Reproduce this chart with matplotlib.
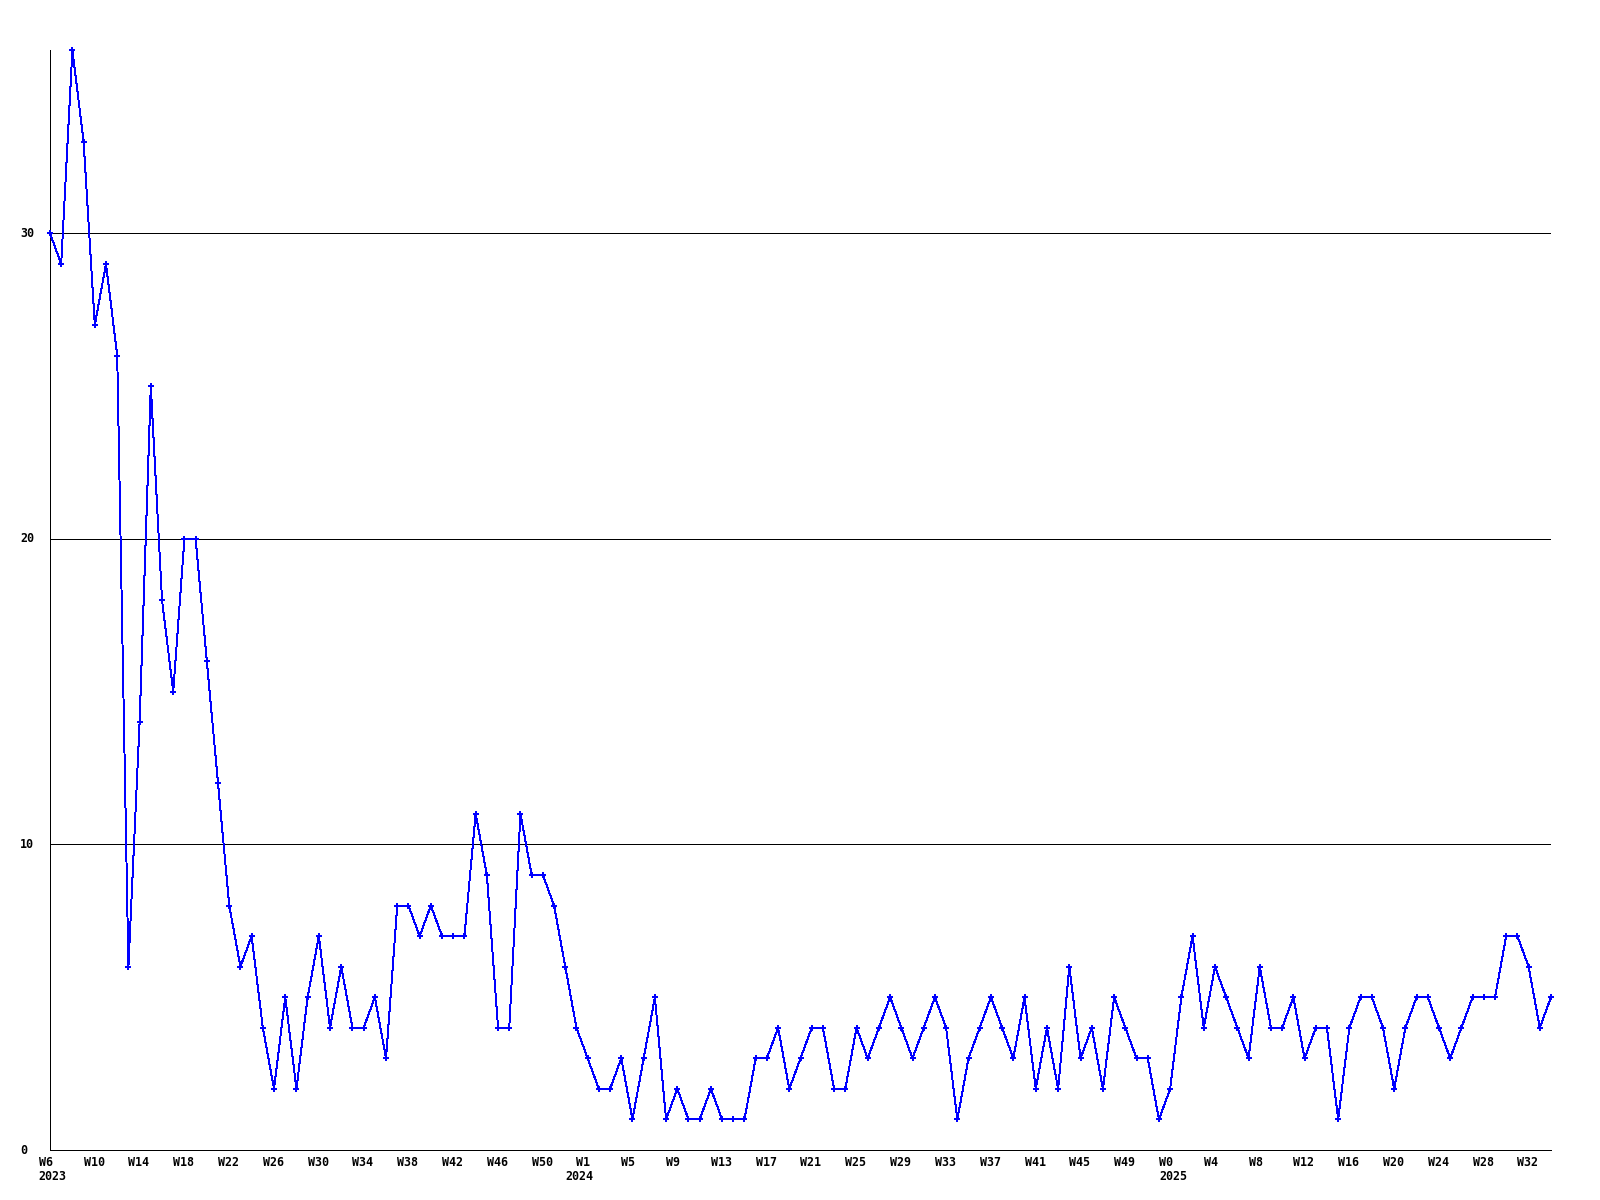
import matplotlib
matplotlib.use("Agg")
import matplotlib.pyplot as plt
import matplotlib.transforms as mtransforms

# weekly counts, one per week starting 2023
values = [30, 29, 36, 33, 27, 29, 26, 6, 14, 25, 18, 15, 20, 20, 16, 12, 8, 6, 7, 4,
          2, 5, 2, 5, 7, 4, 6, 4, 4, 5, 3, 8, 8, 7, 8, 7, 7, 7, 11, 9,
          4, 4, 11, 9, 9, 8, 6, 4, 3, 2, 2, 3, 1, 3, 5, 1, 2, 1, 1, 2,
          1, 1, 1, 3, 3, 4, 2, 3, 4, 4, 2, 2, 4, 3, 4, 5, 4, 3, 4, 5,
          4, 1, 3, 4, 5, 4, 3, 5, 2, 4, 2, 6, 3, 4, 2, 5, 4, 3, 3, 1,
          2, 5, 7, 4, 6, 5, 4, 3, 6, 4, 4, 5, 3, 4, 4, 1, 4, 5, 5, 4,
          2, 4, 5, 5, 4, 3, 4, 5, 5, 5, 7, 7, 6, 4, 5]

week_labels = ["W6", "W10", "W14", "W18", "W22", "W26", "W30", "W34", "W38", "W42", "W46", "W50",
               "W1", "W5", "W9", "W13", "W17", "W21", "W25", "W29", "W33", "W37", "W41", "W45", "W49",
               "W0", "W4", "W8", "W12", "W16", "W20", "W24", "W28", "W32"]
year_labels = ["2023", "2024", "2025"]
year_start_week = [-1, 46, 99]   # week index where each year's label is anchored
y_ticks = [0, 10, 20, 30]

W, H = 1600, 1200
fig = plt.figure(figsize=(16, 12), dpi=100)
fig.patch.set_facecolor("white")
L, R, T, B = 50, 1551, 50, 1150
ax = fig.add_axes([L / W, 1 - B / H, (R - L) / W, (B - T) / H])

xs = list(range(len(values)))
ax.plot(xs, values, color="#0000ff", lw=0.7, marker="P", ms=4.0, mew=0,
        mfc="#0000ff", antialiased=False, clip_on=False, zorder=3)

ax.set_xlim(0, len(values) - 1)
ax.set_ylim(0, max(values))
for yv in y_ticks[1:]:
    ax.axhline(yv, color="black", lw=0.7, antialiased=False, zorder=2)

for s in ["top", "right"]:
    ax.spines[s].set_visible(False)
for s in ["left", "bottom"]:
    ax.spines[s].set_color("black")
    ax.spines[s].set_linewidth(0.7)
    ax.spines[s].set_antialiased(False)
ax.set_xticks([])
ax.set_yticks([])

font = dict(family="DejaVu Sans Mono", weight="bold", size=8.4, color="black")

# x labels (left-aligned at their week position)
tr = mtransforms.blended_transform_factory(ax.transData, fig.transFigure)
for k, lab in enumerate(week_labels):
    xpos = -1 + 4 * k
    ax.text(xpos, 1 - 1162 / H, lab, transform=tr, ha="left", va="center",
            clip_on=False, **font)
for yl, xpos in zip(year_labels, year_start_week):
    ax.text(xpos, 1 - 1177 / H, yl, transform=tr, ha="left",
            va="center", clip_on=False, **font)

# y labels
ytr = mtransforms.blended_transform_factory(fig.transFigure, ax.transData)
for yv in y_ticks:
    ax.text(20 / W, yv, str(yv), transform=ytr, ha="left", va="center",
            clip_on=False, **font)

fig.savefig("out.png", dpi=100, facecolor="white")
